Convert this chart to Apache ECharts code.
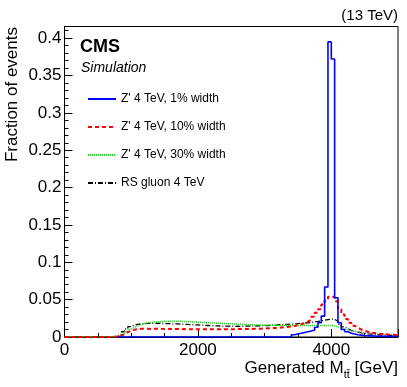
<!DOCTYPE html>
<html>
<head>
<meta charset="utf-8">
<script src="https://cdn.jsdelivr.net/npm/echarts@6/dist/echarts.min.js"></script>
<style>
  html, body { margin: 0; padding: 0; background: #fff; }
  #chart { width: 407px; height: 387px; }
</style>
</head>
<body>
<div id="chart"></div>
<script>
// binning of the generated M(tt) histograms, GeV
var binLow = 0;
var binWidth = 50;
var xMax = 5000;

// fraction of events per 50 GeV bin, rows of 10 bins (500 GeV)
var zp1 = [
  null, null, null, null, null, null, null, null, null, null,
  null, null, null, null, null, null, 0, 0, 0, 0,
  0, 0, 0, 0, 0, 0, 0, 0, 0, 0,
  0, 0, 0, 0, 0, 0, 0, 0, 0, 0,
  0, 0, 0, 0, 0, 0, 0, 0, 0, 0,
  0, 0, 0, 0, 0, 0, 0, 0, 0, 0,
  0, 0, 0, 0, 0, 0, 0, 0, 0.003, 0.004,
  0.005, 0.006, 0.007, 0.008, 0.0095, 0.013, 0.019, 0.028, 0.067, 0.395,
  0.372, 0.0525, 0.019, 0.010, 0.007, 0.005, 0.004, 0.003, 0.0025, 0.002,
  0.0017, 0.0015, 0.0013, 0.0011, 0.001, 0.0009, 0.0008, 0.0007, 0.0006, 0.0005
];
var zp10 = [
  0, 0, 0, 0, 0, 0, 0, 0, 0, 0,
  0, 0, 0, 0, 0.0003, 0.0006, 0.0015, 0.004, 0.0065, 0.0085,
  0.0098, 0.0105, 0.011, 0.0112, 0.011, 0.0108, 0.011, 0.0111, 0.0109, 0.0108,
  0.011, 0.0107, 0.0106, 0.0108, 0.0105, 0.0106, 0.0104, 0.0105, 0.0103, 0.0104,
  0.0103, 0.0104, 0.0102, 0.0103, 0.0102, 0.0104, 0.0103, 0.0104, 0.0105, 0.0104,
  0.0105, 0.0106, 0.0106, 0.0107, 0.0108, 0.0108, 0.011, 0.0111, 0.0112, 0.0114,
  0.0116, 0.0118, 0.012, 0.0123, 0.0127, 0.013, 0.0135, 0.014, 0.0148, 0.0158,
  0.017, 0.0185, 0.0205, 0.023, 0.027, 0.0325, 0.037, 0.0435, 0.049, 0.054,
  0.0535, 0.048, 0.037, 0.030, 0.024, 0.019, 0.015, 0.0125, 0.010, 0.0085,
  0.007, 0.006, 0.0052, 0.0046, 0.0041, 0.0037, 0.0033, 0.003, 0.0028, 0.0026
];
var zp30 = [
  0, 0, 0, 0, 0, 0, 0, 0, 0, 0,
  0, 0, 0, 0, 0.0002, 0.0006, 0.002, 0.0045, 0.0075, 0.0105,
  0.013, 0.015, 0.0165, 0.0178, 0.0188, 0.0195, 0.02, 0.0203, 0.0206, 0.0208,
  0.021, 0.0211, 0.0212, 0.0211, 0.021, 0.0208, 0.0206, 0.0203, 0.0201, 0.0198,
  0.0196, 0.0193, 0.0191, 0.0188, 0.0186, 0.0184, 0.0182, 0.018, 0.0178, 0.0176,
  0.0174, 0.0172, 0.017, 0.0168, 0.0166, 0.0164, 0.0163, 0.0161, 0.016, 0.0159,
  0.0158, 0.0157, 0.0156, 0.0155, 0.0155, 0.0154, 0.0154, 0.0153, 0.0153, 0.0153,
  0.0153, 0.0153, 0.0154, 0.0154, 0.0154, 0.0155, 0.0155, 0.0155, 0.0154, 0.0153,
  0.0145, 0.0133, 0.0118, 0.0105, 0.0094, 0.0085, 0.0077, 0.007, 0.0064, 0.0059,
  0.0054, 0.005, 0.0046, 0.0043, 0.004, 0.0038, 0.0036, 0.0034, 0.0032, 0.003
];
var rsg = [
  0, 0, 0, 0, 0, 0, 0, 0, 0, 0,
  0, 0, 0, 0, 0.0003, 0.0008, 0.003, 0.007, 0.011, 0.014,
  0.016, 0.017, 0.0175, 0.018, 0.0182, 0.0183, 0.0182, 0.0184, 0.0181, 0.018,
  0.0179, 0.0178, 0.0176, 0.0175, 0.0172, 0.0171, 0.0168, 0.0166, 0.0163, 0.0161,
  0.0158, 0.0156, 0.0154, 0.0152, 0.015, 0.0149, 0.0147, 0.0146, 0.0145, 0.0144,
  0.0143, 0.0144, 0.0143, 0.0144, 0.0145, 0.0146, 0.0147, 0.0149, 0.015, 0.0152,
  0.0154, 0.0157, 0.0159, 0.0162, 0.0165, 0.0168, 0.017, 0.0173, 0.0176, 0.018,
  0.0183, 0.0187, 0.019, 0.0195, 0.0201, 0.0208, 0.0216, 0.0224, 0.0232, 0.024,
  0.0236, 0.021, 0.017, 0.0135, 0.011, 0.009, 0.0075, 0.0065, 0.0056, 0.0049,
  0.0043, 0.0038, 0.0034, 0.003, 0.0027, 0.0025, 0.0023, 0.0021, 0.0019, 0.0018
];

var names = ["Z' 4 TeV, 1% width", "Z' 4 TeV, 10% width", "Z' 4 TeV, 30% width", "RS gluon 4 TeV"];

var FONT = "'Liberation Sans', Arial, Helvetica, sans-serif";

// histogram -> step points (left bin edge + closing point at the last edge)
function histo(vals) {
  var pts = [];
  for (var i = 0; i < vals.length; i++) {
    pts.push([binLow + i * binWidth, vals[i]]);
  }
  pts.push([binLow + vals.length * binWidth, vals[vals.length - 1]]);
  return pts;
}

function yLabel(v) {
  var k = Math.round(v / 0.05);
  if (Math.abs(v - k * 0.05) > 1e-6) return '';
  return String(+(k * 0.05).toFixed(2));
}

var chart = echarts.init(document.getElementById('chart'), null, { renderer: 'canvas' });

var option = {
  animation: false,
  backgroundColor: '#fff',
  grid: {
    left: 64.5, right: 9, top: 26.5, bottom: 50,
    show: true, borderColor: '#000', borderWidth: 1, backgroundColor: 'transparent'
  },
  legend: {
    orient: 'vertical',
    left: 87, top: 93,
    itemWidth: 28, itemHeight: 14, itemGap: 16,
    padding: 0,
    itemStyle: { opacity: 0 },
    textStyle: { fontFamily: FONT, fontSize: 12, color: '#000' },
    data: names
  },
  xAxis: [{
    type: 'value', min: 0, max: xMax, interval: 500,
    axisLine: { show: true, lineStyle: { color: '#000', width: 1 } },
    axisTick: { show: true, inside: true, length: 4, lineStyle: { color: '#000' } },
    axisLabel: {
      fontFamily: FONT, fontSize: 17, color: '#000', margin: 5,
      formatter: function (v) { return v % 2000 === 0 ? String(v) : ''; }
    },
    splitLine: { show: false }
  }, {
    type: 'value', min: 0, max: xMax, interval: 2000, position: 'bottom',
    axisLine: { show: false },
    axisTick: { show: true, inside: true, length: 8, lineStyle: { color: '#000' } },
    axisLabel: { show: false },
    splitLine: { show: false }
  }],
  yAxis: [{
    type: 'value', min: 0, max: 0.4156, interval: 0.05,
    axisLine: { show: true, lineStyle: { color: '#000', width: 1 } },
    axisTick: { show: true, inside: true, length: 8, lineStyle: { color: '#000' } },
    axisLabel: { fontFamily: FONT, fontSize: 17, color: '#000', margin: 3, formatter: yLabel },
    splitLine: { show: false }
  }, {
    type: 'value', min: 0, max: 0.4156, interval: 0.01, position: 'left',
    axisLine: { show: false },
    axisTick: { show: true, inside: true, length: 4, lineStyle: { color: '#000' } },
    axisLabel: { show: false },
    splitLine: { show: false }
  }],
  graphic: [
    {
      type: 'text', x: 12, y: 27, rotation: Math.PI / 2,
      style: { text: 'Fraction of events', font: '17px ' + FONT, fill: '#000', align: 'right', verticalAlign: 'middle' }
    },
    {
      type: 'text', x: 398, y: 368,
      style: {
        text: 'Generated M{sub|tt\u0304} [GeV]',
        font: '17px ' + FONT, fill: '#000', align: 'right', verticalAlign: 'middle',
        rich: { sub: { font: '11px ' + FONT, fill: '#000', padding: [14, 0, 0, 0] } }
      }
    },
    {
      type: 'text', x: 398, y: 15.5,
      style: { text: '(13 TeV)', font: '15px ' + FONT, fill: '#000', align: 'right', verticalAlign: 'middle' }
    },
    {
      type: 'text', x: 80, y: 47,
      style: { text: 'CMS', font: 'bold 18px ' + FONT, fill: '#000', align: 'left', verticalAlign: 'middle' }
    },
    {
      type: 'text', x: 81, y: 68,
      style: { text: 'Simulation', font: 'italic 14px ' + FONT, fill: '#000', align: 'left', verticalAlign: 'middle' }
    }
  ],
  series: [{
    name: names[3], type: 'line', step: 'end', symbol: 'none', data: histo(rsg),
    lineStyle: { color: '#000', width: 1.3, type: [5, 2, 1, 2] }, itemStyle: { color: '#000' }
  }, {
    name: names[2], type: 'line', step: 'end', symbol: 'none', data: histo(zp30),
    lineStyle: { color: '#22cc22', width: 1.5, type: [1, 1] }, itemStyle: { color: '#22cc22' }
  }, {
    name: names[1], type: 'line', step: 'end', symbol: 'none', data: histo(zp10),
    lineStyle: { color: '#ff0000', width: 2, type: [4, 3] }, itemStyle: { color: '#ff0000' }
  }, {
    name: names[0], type: 'line', step: 'end', symbol: 'none', data: histo(zp1),
    lineStyle: { color: '#0000ff', width: 1.6, type: 'solid' }, itemStyle: { color: '#0000ff' }
  }]
};

chart.setOption(option);
</script>
</body>
</html>
